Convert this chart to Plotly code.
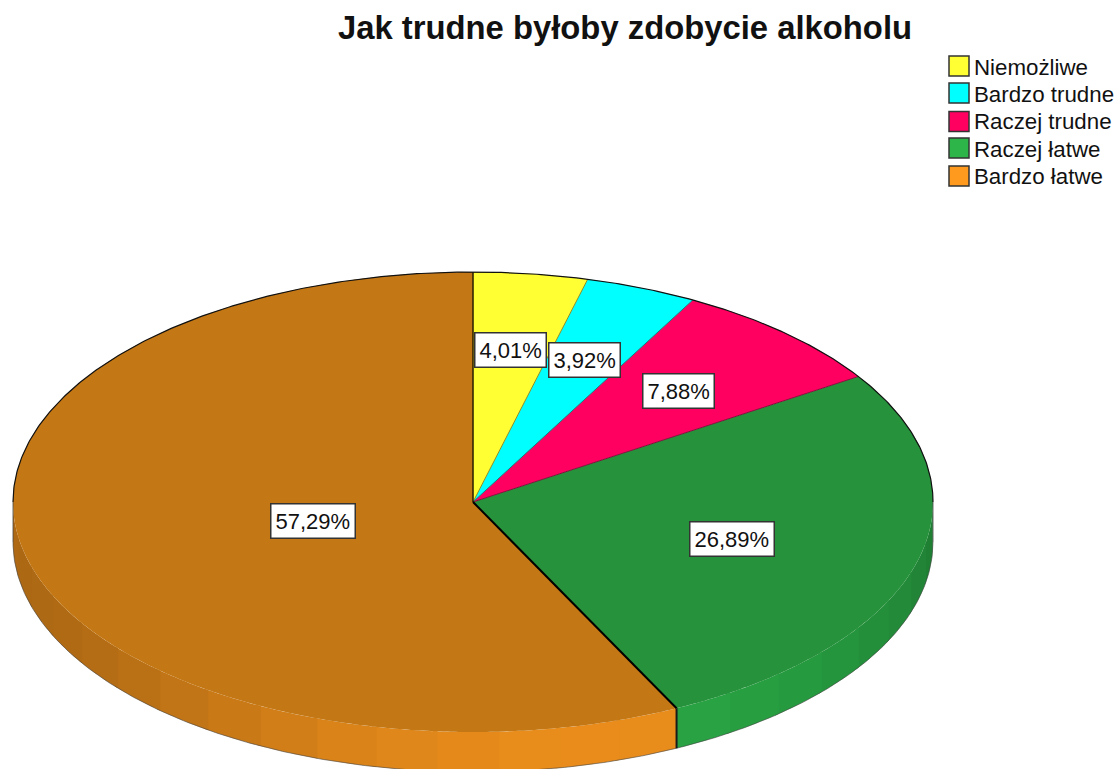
import numpy as np
import plotly.graph_objects as go

categories = ["Niemożliwe", "Bardzo trudne", "Raczej trudne", "Raczej łatwe", "Bardzo łatwe"]
percent_values = [4.01, 3.92, 7.88, 26.89, 57.29]
percent_labels = ["4,01%", "3,92%", "7,88%", "26,89%", "57,29%"]
title_text = "Jak trudne byłoby zdobycie alkoholu"

# styling
W, H = 1118, 769
CX, CY, RX, RY, DEPTH = 473, 502, 460, 230, 40
base_rgb = [(255, 255, 51), (0, 255, 255), (255, 0, 96), (45, 181, 74), (255, 154, 30)]
top_colors = ["#FFFF33", "#00FFFF", "#FF0060", "#26933C", "#C47815"]
spoke_colors = ["#8f8f20", "#108080", "#80103a", "#000000", "#000000"]
label_px = [(510, 350), (584, 360), (678, 391), (732, 539), (313, 521)]
FONT = "Liberation Sans, Arial, sans-serif"


def px_x(p):
    return (p - CX) / RX


def px_y(p):
    return (CY - p) / RY


def arc(a0, a1, step=0.5):
    n = max(2, int(abs(a1 - a0) / step) + 1)
    t = np.radians(np.linspace(a0, a1, n))
    return np.sin(t), np.cos(t)


total = sum(percent_values)
edges = np.concatenate([[0], np.cumsum(percent_values) / total * 360])
depth = DEPTH / RY
fig = go.Figure()

# visible side wall, in shaded bands (each band overlaps the next so no seam shows)
band_edges = 153.7 + 7.68 * np.arange(-9, 16)
for i, cat in enumerate(categories):
    a0, a1 = max(edges[i], 90), min(edges[i + 1], 270)
    if a1 <= a0:
        continue
    cuts = [a0] + [b for b in band_edges if a0 < b < a1] + [a1]
    for s, e in zip(cuts[:-1], cuts[1:]):
        m = (s + e) / 2
        f = 0.68 + 0.235 * np.cos(np.radians(m - 165)) ** 2
        r, g, b = [int(c * f) for c in base_rgb[i]]
        x, y = arc(s, min(e + 0.6, a1))
        fig.add_trace(go.Scatter(
            x=np.concatenate([x, x[::-1]]),
            y=np.concatenate([y, y[::-1] - depth]),
            mode="none", fill="toself", fillcolor=f"rgb({r},{g},{b})",
            hoverinfo="skip", showlegend=False))

# lower outline of the wall
x, y = arc(90, 270)
fig.add_trace(go.Scatter(x=x, y=y - depth, mode="lines",
                         line=dict(color="#444444", width=0.6),
                         hoverinfo="skip", showlegend=False))

# top face wedges
for i, cat in enumerate(categories):
    x, y = arc(edges[i], edges[i + 1])
    fig.add_trace(go.Scatter(
        x=np.concatenate([[0], x, [0]]), y=np.concatenate([[0], y, [0]]),
        mode="none", fill="toself", fillcolor=top_colors[i],
        name=cat, text=percent_labels[i], hoverinfo="name+text",
        showlegend=False))

# wedge separators
for i in range(len(categories)):
    t = np.radians(edges[i + 1])
    w = 2 if i == 3 else 1
    fig.add_trace(go.Scatter(x=[0, np.sin(t)], y=[0, np.cos(t)], mode="lines",
                             line=dict(color=spoke_colors[i], width=w),
                             hoverinfo="skip", showlegend=False))
fig.add_trace(go.Scatter(x=[0, 0], y=[0, 1], mode="lines",
                         line=dict(color="#3a2a05", width=1),
                         hoverinfo="skip", showlegend=False))

# upper rim
x, y = arc(-90, 90)
fig.add_trace(go.Scatter(x=x, y=y, mode="lines", line=dict(color="#111111", width=1.2),
                         hoverinfo="skip", showlegend=False))
# rim edges on the sides and wall seam
for a in (90, 270):
    t = np.radians(a)
    fig.add_trace(go.Scatter(x=[np.sin(t)] * 2, y=[0, -depth], mode="lines",
                             line=dict(color="#444444", width=0.8),
                             hoverinfo="skip", showlegend=False))
t = np.radians(edges[4])
fig.add_trace(go.Scatter(x=[np.sin(t)] * 2, y=[np.cos(t), np.cos(t) - depth], mode="lines",
                         line=dict(color="#1a1a1a", width=2),
                         hoverinfo="skip", showlegend=False))

# legend block (square swatches with text)
swatch_rows = [66, 93, 121.5, 148, 176]
text_rows = [69, 96.5, 123.5, 151, 178]
for cat, rgb, row, trow in zip(categories, base_rgb, swatch_rows, text_rows):
    fig.add_trace(go.Scatter(
        x=[px_x(959)], y=[px_y(row)], mode="markers",
        marker=dict(symbol="square", size=20, color=f"rgb{rgb}",
                    line=dict(color="#333333", width=1.5)),
        name=cat, hoverinfo="skip", showlegend=False))
    fig.add_trace(go.Scatter(
        x=[px_x(974)], y=[px_y(trow)], mode="text",
        text=[cat], textposition="middle right",
        textfont=dict(family=FONT, size=22.3, color="#111111"),
        cliponaxis=False, hoverinfo="skip", showlegend=False))

# percent labels
annotations = []
for lab, (px, py) in zip(percent_labels, label_px):
    annotations.append(dict(
        x=px / W, y=1 - py / H, xref="paper", yref="paper", text=lab, showarrow=False,
        font=dict(family=FONT, size=22, color="#111111"),
        bgcolor="white", bordercolor="#333333", borderwidth=1.5, borderpad=4,
        xanchor="center", yanchor="middle"))

fig.update_layout(
    width=W, height=H, margin=dict(l=0, r=0, t=0, b=0),
    paper_bgcolor="white", plot_bgcolor="white",
    title=dict(text=f"<b>{title_text}</b>", x=625 / W, xanchor="center",
               y=1 - 28 / H, yanchor="middle",
               font=dict(family=FONT, size=32.8, color="#111111")),
    xaxis=dict(range=[px_x(0), px_x(W)], visible=False, fixedrange=True),
    yaxis=dict(range=[px_y(H), px_y(0)], visible=False, fixedrange=True),
    annotations=annotations, showlegend=False)

fig.write_html("out.html", post_script="document.body.style.margin='0';",
               config=dict(displayModeBar=False))
